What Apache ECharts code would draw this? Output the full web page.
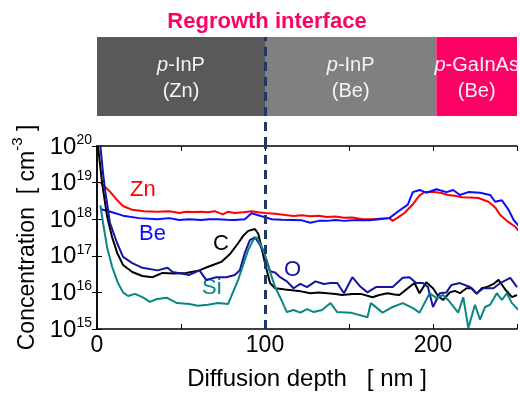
<!DOCTYPE html>
<html>
<head>
<meta charset="utf-8">
<script src="https://cdn.jsdelivr.net/npm/echarts@6/dist/echarts.min.js"></script>
<style>
  html, body { margin: 0; padding: 0; background: #fff; }
  #chart { width: 520px; height: 394px; }
</style>
</head>
<body>
<div id="chart"></div>
<script>
// SIMS depth profiles: [depth (nm), concentration (cm^-3)]
const zn = [[2,1.0e19],[5,7.5e18],[8,5.5e18],[12,3.3e18],[15.5,2.3e18],[21,1.8e18],[28,1.65e18],[36,1.6e18],[43,1.66e18],[49,1.48e18],[53,1.6e18],[58,1.58e18],[62,1.6e18],[66,1.55e18],[70,1.66e18],[75,1.35e18],[78,1.6e18],[82,1.48e18],[87,1.55e18],[92,1.66e18],[96,1.55e18],[100,1.48e18],[106,1.4e18],[112,1.3e18],[117,1.23e18],[122,1.28e18],[127,1.2e18],[132,1.25e18],[137,1.15e18],[142,1.18e18],[147,1.1e18],[152,1.12e18],[158,1.0e18],[164,1.0e18],[170,1.05e18],[174,1.07e18],[176,0.9e18],[179,1.1e18],[183,1.48e18],[187.5,2.4e18],[192,4.5e18],[195,5.5e18],[201,5.5e18],[205,5.2e18],[209,4.6e18],[213,4.4e18],[217,4.0e18],[222,3.9e18],[227,3.8e18],[233,3.0e18],[237,2.1e18],[240,1.3e18],[245,8.3e17],[249,6.2e17],[251,4.8e17]];

const be = [[2,1.9e18],[8,1.6e18],[15.5,1.25e18],[25,1.07e18],[36,1.0e18],[43,1.07e18],[49,0.95e18],[55,1.0e18],[62,0.95e18],[67,1.0e18],[72,1.0e18],[77,0.97e18],[82,0.95e18],[88,1.0e18],[92,1.45e18],[98,1.2e18],[104,1.0e18],[110,0.97e18],[117,0.95e18],[122,0.93e18],[127,0.8e18],[132,0.9e18],[137,0.9e18],[142,0.95e18],[147,0.9e18],[152,0.93e18],[157,0.95e18],[162,0.93e18],[168,1.0e18],[174,1.07e18],[179,1.6e18],[185,2.5e18],[188,5.5e18],[192,6.3e18],[196,5.3e18],[202,6.6e18],[208,5.5e18],[212,6.3e18],[216,4.6e18],[221,5.5e18],[228,5.3e18],[234,4.6e18],[237,3.0e18],[241,3.3e18],[245,1.8e18],[248,0.95e18],[251,0.66e18]];

const carbon = [[0.6,1e20],[3,1e19],[6,1.2e18],[9,3.2e17],[12,1.2e17],[15.5,5.6e16],[21,3.6e16],[27,2.8e16],[33,2.6e16],[39,3.4e16],[46,3.3e16],[53,3.4e16],[61,4.0e16],[65,4.8e16],[69,5.6e16],[74,6.8e16],[79,1.1e17],[84,2.2e17],[87,3.5e17],[90,4.8e17],[94,5.4e17],[96,4.0e17],[98,1.6e17],[100,6.3e16],[103,1.8e16],[106,1.3e16],[112,1.2e16],[120,1.1e16],[127,9.5e15],[132,1.0e16],[137,9.5e15],[142,9.0e15],[146,8.5e15],[152,9.0e15],[157,9.1e15],[164,7.4e15],[168,8.5e15],[173,9.5e15],[177,8.8e15],[180,8.5e15],[185,1.3e16],[189,1.8e16],[192,9.5e15],[196,1.9e16],[200,1.3e16],[203,8e15],[206,6.2e15],[210,1.0e16],[213,1.1e16],[216,9.5e15],[220,1.3e16],[223,1.3e16],[226,9.1e15],[229,1.3e16],[232,1.4e16],[236,1.7e16],[239,2.2e16],[243,1.2e16],[247,7.4e15],[250,8.5e15]];

const oxygen = [[2,1e20],[3.5,2e19],[4.8,6.3e18],[7.7,8e17],[12,2.2e17],[15.5,9.3e16],[21,6.3e16],[27,4.7e16],[36,4.0e16],[42,4.7e16],[45,3.6e16],[50,3.3e16],[55,3.0e16],[61,4.0e16],[65,2.2e16],[71,2.6e16],[77,2.6e16],[82,3.0e16],[85,4.0e16],[88,1.2e17],[91,2.7e17],[94,3.2e17],[97,2.0e17],[100,1.0e17],[103,3.8e16],[106,3.5e16],[109,2.6e16],[113,2.0e16],[117,1.3e16],[121,1.7e16],[125,1.4e16],[130,2.0e16],[135,1.7e16],[139,1.8e16],[143,1.8e16],[147,9.5e15],[152,2.6e16],[157,1.4e16],[161,1.0e16],[166,1.4e16],[171,1.4e16],[176,1.4e16],[182,2.5e16],[186,2.6e16],[190,1.8e16],[194,1.8e16],[197,1.4e16],[200,4.0e15],[204,9.5e15],[208,1.0e16],[211,1.6e16],[216,1.8e16],[222,1.4e16],[226,9.5e15],[230,1.3e16],[236,1.3e16],[240,1.8e16],[246,2.5e16],[250,1.4e16]];

const silicon = [[2,2.4e18],[3.6,8e17],[6,1.7e17],[9,5e16],[12.5,1.8e16],[15.5,1.0e16],[18.5,8e15],[22.6,9.1e15],[27,7.4e15],[31.5,5.5e15],[35.7,6.6e15],[41.7,7.1e15],[47.6,5.1e15],[55,4.8e15],[60,4.3e15],[66,4.6e15],[72,5.1e15],[78,4.8e15],[84,2.2e16],[90,1.45e17],[93,2.7e17],[95,3.2e17],[99,1.45e17],[102,5e16],[106,1.4e16],[109,7.4e15],[113,2.9e15],[117,3.3e15],[121,2.8e15],[125,3.5e15],[129,2.9e15],[134,3.3e15],[139,5.1e15],[143,2.9e15],[151,2.8e15],[161,2.1e15],[163,5.1e15],[170,2.8e15],[176,4.0e15],[182,5.1e15],[188,3.7e15],[192,2.8e15],[198,9.5e15],[202,7.1e15],[206,8.5e15],[209,6.2e15],[215,2.8e15],[218,7.4e15],[221,1.07e15],[225,4.6e15],[228,1.8e15],[231,4.0e15],[234,4.6e15],[238,9.5e15],[241,6.2e15],[244,9.5e15],[247,5.1e15],[251,3.3e15]];

// Layer stack shown above the profile
const layerNames = ['{i|p}-InP\n(Zn)', '{i|p}-InP\n(Be)', '{i|p}-GaInAs\n(Be)'];
const layerStart = [0, 100, 202];
const layerEnd = [100, 202, 250];
const layerColors = ['#595959', '#808080', '#ff0066'];

const interfaceDepth = 100;
const xTicks = [0, 100, 200];

const FONT = 'Liberation Sans, Arial, sans-serif';
const BAR_BASE = 0.275;

const chart = echarts.init(document.getElementById('chart'));

const dash = {
  silent: true,
  symbol: 'none',
  label: { show: false },
  lineStyle: { color: '#1f3864', width: 3, type: [9, 6] },
  data: [{ xAxis: interfaceDepth }]
};

function profile(name, data, color, extra) {
  return Object.assign({
    name, type: 'line', xAxisIndex: 0, yAxisIndex: 0,
    data, showSymbol: false, symbol: 'none',
    lineStyle: { color, width: 2 }, itemStyle: { color },
    clip: true, z: 3
  }, extra || {});
}

const option = {
  animation: false,
  backgroundColor: '#fff',
  title: {
    text: 'Regrowth interface',
    left: 262, top: 6, textAlign: 'center',
    textStyle: { color: '#ff0066', fontSize: 22, fontWeight: 'bold', fontFamily: FONT }
  },
  grid: [
    { left: 97, top: 146, width: 420, height: 183 },
    { left: 97, top: 37, width: 420, height: 109 }
  ],
  xAxis: [
    {
      gridIndex: 0, type: 'value', min: 0, max: 250, interval: 50, position: 'bottom',
      name: 'Diffusion depth   [ nm ]', nameLocation: 'middle', nameGap: 38,
      nameTextStyle: { fontSize: 24, color: '#000', fontFamily: FONT },
      axisLine: { lineStyle: { color: '#000', width: 1.5 } },
      axisTick: { inside: true, length: 5, lineStyle: { color: '#000', width: 1 } },
      axisLabel: {
        fontSize: 23, color: '#000', fontFamily: FONT, margin: 5,
        formatter: v => (xTicks.includes(v) ? String(v) : '')
      },
      splitLine: { show: false }
    },
    {
      gridIndex: 0, type: 'value', min: 0, max: 250, interval: 50, position: 'top',
      axisLine: { lineStyle: { color: '#000', width: 1.5 } },
      axisTick: { inside: true, length: 5, lineStyle: { color: '#000', width: 1 } },
      axisLabel: { show: false }, splitLine: { show: false }
    },
    {
      gridIndex: 1, type: 'value', min: 0, max: 250, show: false
    }
  ],
  yAxis: [
    {
      gridIndex: 0, type: 'log', logBase: 10, min: 1e15, max: 1e20, position: 'left',
      name: '{n|Concentration  [ cm}{s|-3}{n| ]}', nameLocation: 'middle', nameRotate: 90, nameGap: 58,
      nameTextStyle: {
        rich: {
          n: { fontSize: 23, color: '#000', fontFamily: FONT, lineHeight: 28, verticalAlign: 'bottom' },
          s: { fontSize: 15, color: '#000', fontFamily: FONT, lineHeight: 28, verticalAlign: 'top' }
        }
      },
      axisLine: { lineStyle: { color: '#000', width: 1.5 } },
      axisTick: { inside: true, length: 5, lineStyle: { color: '#000', width: 1 } },
      axisLabel: {
        margin: 5,
        formatter: v => '{b|10}{s|' + Math.round(Math.log10(v)) + '}',
        rich: {
          b: { fontSize: 24, color: '#000', fontFamily: FONT, lineHeight: 26, verticalAlign: 'bottom' },
          s: { fontSize: 14, color: '#000', fontFamily: FONT, lineHeight: 14, verticalAlign: 'top' }
        }
      },
      splitLine: { show: false }
    },
    {
      gridIndex: 0, type: 'log', logBase: 10, min: 1e15, max: 1e20, position: 'right',
      axisLine: { lineStyle: { color: '#000', width: 1.5 } },
      axisTick: { inside: true, length: 5, lineStyle: { color: '#000', width: 1 } },
      axisLabel: { show: false }, splitLine: { show: false }
    },
    {
      gridIndex: 1, type: 'value', min: 0, max: 1, show: false
    }
  ],
  series: [
    // layer bars
    {
      type: 'custom', xAxisIndex: 2, yAxisIndex: 2, z: 1,
      data: layerNames.map((n, i) => [layerStart[i], layerEnd[i], i]),
      renderItem: (params, api) => {
        const i = api.value(2);
        const tl = api.coord([api.value(0), 1]);
        const br = api.coord([api.value(1), BAR_BASE]);
        return {
          type: 'group',
          children: [
            {
              type: 'rect',
              shape: { x: tl[0], y: tl[1], width: br[0] - tl[0], height: br[1] - tl[1] },
              style: { fill: layerColors[i] }
            },
            {
              type: 'text',
              style: {
                text: layerNames[i],
                x: (tl[0] + br[0]) / 2, y: (tl[1] + br[1]) / 2 + 2,
                align: 'center', verticalAlign: 'middle',
                fill: '#f4f4f4', font: '20px ' + FONT, lineHeight: 26,
                rich: { i: { fontStyle: 'italic', fill: '#f4f4f4', fontSize: 20, fontFamily: FONT, lineHeight: 26 } }
              }
            }
          ]
        };
      }
    },
    {
      type: 'line', xAxisIndex: 2, yAxisIndex: 2, data: [], z: 5, markLine: dash
    },
    profile('Zn', zn, '#ff0000'),
    profile('Be', be, '#0a0aff'),
    profile('C', carbon, '#000000'),
    profile('O', oxygen, '#1414a3'),
    profile('Si', silicon, '#0a8585', { markLine: Object.assign({}, dash) })
  ],
  graphic: [
    { type: 'text', left: 130, top: 179, style: { text: 'Zn', fill: '#ff0000', font: '22px ' + FONT } },
    { type: 'text', left: 139, top: 223, style: { text: 'Be', fill: '#0a0aff', font: '22px ' + FONT } },
    { type: 'text', left: 213, top: 233, style: { text: 'C', fill: '#000000', font: '22px ' + FONT } },
    { type: 'text', left: 284, top: 259, style: { text: 'O', fill: '#1414a3', font: '22px ' + FONT } },
    { type: 'text', left: 202, top: 277, style: { text: 'Si', fill: '#0a8585', font: '22px ' + FONT } }
  ]
};

chart.setOption(option);
</script>
</body>
</html>
